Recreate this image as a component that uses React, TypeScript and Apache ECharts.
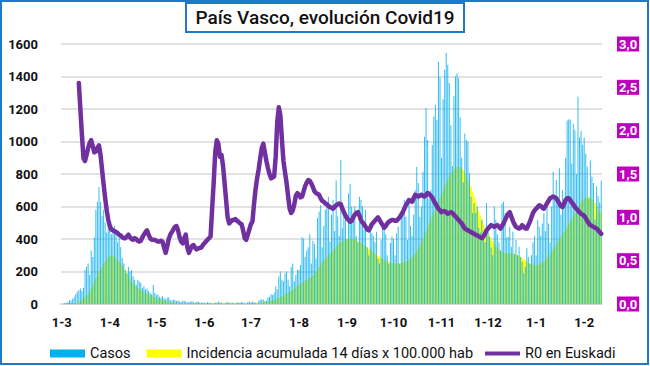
import React, { useEffect, useRef } from "react";
import * as echarts from "echarts";

// Daily data, 1 March 2020 -> 12 February 2021
const startDate = Date.UTC(2020, 2, 1);
const dayCount = 349;

const casosMar = [0,0,4,6,12,25,20,32,45,60,75,85,95,80,100,210,230,250,180,330,290,410,580,630,720,630,540,580,500,440,540];
const casosAbr = [500,430,460,480,437,380,414,350,283,250,210,190,230,200,210,170,150,120,150,140,130,100,110,90,95,80,70,60,117,70];
const casosMay = [55,60,45,40,50,35,30,38,42,25,20,28,25,18,22,15,12,20,18,15,10,14,12,18,10,8,12,15,9,7,10];
const casosJun = [8,5,12,10,6,3,4,9,7,15,11,8,4,3,10,12,8,6,9,4,3,11,7,9,13,10,5,4,12,15];
const casosJul = [10,14,12,6,5,20,25,30,28,18,22,40,45,60,55,70,110,90,170,200,150,140,190,200,150,110,230,250,140,180,210];
const casosAgo = [210,240,412,400,290,330,350,430,250,390,370,280,530,570,610,350,480,580,620,660,385,550,640,450,760,540,420,886,470,580,540];
const casosSep = [400,680,740,600,540,600,420,380,660,640,600,455,580,350,300,455,435,420,380,445,280,250,395,475,455,430,300,250,375,415];
const casosOct = [400,300,435,475,250,560,560,640,537,394,640,480,420,550,700,843,744,537,600,814,1030,1206,1010,650,700,978,1153,1225,1132,1491,1399];
const casosNov = [900,1260,1440,1545,1472,1360,1100,850,1280,1400,1420,1390,1150,900,750,1050,1010,1000,805,660,560,620,560,600,470,440,520,445,380,620];
const casosDic = [475,413,350,300,600,520,430,380,330,620,630,560,410,414,476,353,445,310,394,300,353,290,260,190,230,343,290,250,300,380,420];
const casosEne = [300,517,476,420,496,558,450,610,496,380,600,814,660,763,620,835,550,700,640,900,1130,1135,1135,864,1110,1070,800,1276,1025,1065,980];
const casosFeb = [1025,925,845,650,885,785,745,520,725,665,625,760];

const incMar = [0,0,0,0,0,0,0,0,2,4,8,14,20,27,35,43,52,63,76,95,115,135,155,175,195,213,230,248,262,275,287];
const incAbr = [296,300,298,292,283,272,260,248,235,220,205,190,172,155,140,128,118,109,100,93,86,80,75,70,64,58,53,48,43,40];
const incMay = [37,34,31,28,25,22,19,16,14,12,10,9,8,7,6,6,5,5,5,4,4,4,4,3,3,3,3,3,3,3,3];
const incJun = [3,3,3,3,4,4,4,5,5,5,5,6,6,6,6,6,6,6,5,5,5,5,5,5,5,5,5,5,6,6];
const incJul = [6,6,6,7,7,8,9,10,11,12,14,16,18,21,24,27,30,34,38,42,47,52,57,62,68,74,80,87,95,103,110];
const incAgo = [115,122,130,137,143,148,153,160,168,178,188,200,212,226,240,255,270,280,290,300,310,320,330,341,352,363,375,382,388,393,397];
const incSep = [400,401,401,400,399,396,392,387,382,376,370,362,355,348,340,333,326,318,310,302,296,290,284,278,273,268,264,260,256,253];
const incOct = [251,250,249,249,250,252,255,258,262,267,273,280,290,300,312,326,342,360,380,402,425,448,472,495,518,542,565,588,610,632,655];
const incNov = [678,700,722,744,765,785,802,816,828,837,843,845,843,836,824,808,790,768,745,720,690,660,630,600,570,542,515,490,466,445];
const incDic = [437,420,403,388,372,358,346,336,328,322,318,315,313,312,312,311,310,308,305,300,295,290,282,275,267,260,254,249,245,242,240];
const incEne = [240,241,244,250,256,263,272,282,294,308,322,337,353,368,383,398,413,428,443,459,476,493,510,526,542,558,575,592,610,625,638];
const incFeb = [648,655,659,660,656,648,636,620,604,588,572,560];

const r0Mar = [null,null,null,null,null,null,null,null,null,null,null,2.55,2.25,1.95,1.68,1.65,1.72,1.8,1.86,1.89,1.82,1.75,1.76,1.8,1.83,1.72,1.55,1.38,1.22,1.08,0.97];
const r0Abr = [0.9,0.86,0.85,0.84,0.83,0.82,0.8,0.79,0.77,0.76,0.76,0.78,0.8,0.77,0.75,0.74,0.76,0.75,0.73,0.72,0.73,0.77,0.8,0.83,0.85,0.8,0.76,0.74,0.74,0.74];
const r0May = [0.73,0.72,0.72,0.73,0.72,0.65,0.59,0.66,0.75,0.8,0.83,0.86,0.89,0.9,0.85,0.77,0.72,0.7,0.76,0.8,0.65,0.59,0.63,0.67,0.68,0.65,0.63,0.64,0.65,0.65,0.68];
const r0Jun = [0.7,0.72,0.74,0.76,0.78,1.1,1.4,1.75,1.89,1.85,1.7,1.72,1.6,1.4,1.2,1.0,0.93,0.95,0.97,0.97,0.98,0.96,0.95,0.93,0.92,0.85,0.76,0.74,0.8,0.86];
const r0Jul = [0.92,0.95,1.15,1.32,1.45,1.55,1.68,1.8,1.85,1.75,1.65,1.57,1.5,1.45,1.46,1.47,1.7,2.1,2.27,2.18,1.9,1.65,1.52,1.4,1.25,1.1,1.05,1.08,1.15,1.25,1.28];
const r0Ago = [1.26,1.23,1.24,1.3,1.36,1.4,1.43,1.42,1.39,1.35,1.3,1.28,1.27,1.26,1.22,1.19,1.18,1.16,1.15,1.13,1.12,1.11,1.1,1.12,1.14,1.15,1.16,1.15,1.1,1.06,1.02];
const r0Sep = [0.99,0.97,0.95,0.96,1.0,1.03,1.05,1.06,1.02,0.97,0.94,0.92,0.89,0.86,0.85,0.88,0.92,0.94,0.96,0.98,1.0,0.97,0.94,0.91,0.88,0.9,0.93,0.95,0.96,0.97];
const r0Oct = [0.97,0.96,0.96,0.98,1.0,1.03,1.06,1.1,1.14,1.17,1.2,1.19,1.18,1.22,1.26,1.25,1.24,1.25,1.26,1.25,1.24,1.26,1.28,1.27,1.25,1.23,1.19,1.16,1.13,1.1,1.08];
const r0Nov = [1.06,1.07,1.07,1.06,1.04,1.05,1.06,1.05,1.03,1.01,0.99,0.97,0.95,0.93,0.9,0.87,0.86,0.85,0.84,0.83,0.82,0.81,0.8,0.79,0.78,0.77,0.76,0.78,0.81,0.85];
const r0Dic = [0.87,0.89,0.91,0.9,0.89,0.9,0.91,0.89,0.87,0.9,0.93,0.97,1.01,1.04,1.06,1.01,0.96,0.92,0.89,0.88,0.87,0.88,0.91,0.89,0.87,0.87,0.91,0.95,1.0,1.05,1.08];
const r0Ene = [1.1,1.12,1.14,1.13,1.11,1.1,1.13,1.16,1.19,1.22,1.23,1.24,1.23,1.22,1.19,1.16,1.13,1.12,1.15,1.2,1.22,1.22,1.2,1.17,1.15,1.12,1.1,1.08,1.06,1.04,1.03];
const r0Feb = [1.02,0.99,0.96,0.93,0.91,0.9,0.89,0.88,0.87,0.85,0.83,0.81];

const casos = [...casosMar, ...casosAbr, ...casosMay, ...casosJun, ...casosJul, ...casosAgo, ...casosSep, ...casosOct, ...casosNov, ...casosDic, ...casosEne, ...casosFeb];
const incidencia = [...incMar, ...incAbr, ...incMay, ...incJun, ...incJul, ...incAgo, ...incSep, ...incOct, ...incNov, ...incDic, ...incEne, ...incFeb];
const r0 = [...r0Mar, ...r0Abr, ...r0May, ...r0Jun, ...r0Jul, ...r0Ago, ...r0Sep, ...r0Oct, ...r0Nov, ...r0Dic, ...r0Ene, ...r0Feb];

const categories: string[] = [];
for (let i = 0; i < dayCount; i++) {
  const d = new Date(startDate + i * 86400000);
  categories.push(`${d.getUTCDate()}-${d.getUTCMonth() + 1}`);
}

const leftTicks = { min: 0, max: 1600, interval: 200 };
const rightTicks = { min: 0, max: 3, interval: 0.5 };

const NAME_CASOS = "Casos";
const NAME_INC = "Incidencia acumulada 14 días x 100.000 hab";
const NAME_R0 = "R0 en Euskadi";

const FONT = "Roboto, 'Noto Sans', sans-serif";

export default function App() {
  const ref = useRef<HTMLDivElement>(null);
  useEffect(() => {
    if (!ref.current) return;
    const chart = echarts.init(ref.current, null, { renderer: "svg" });
    const isMonthStart = (_i: number, v: string) => v.startsWith("1-");
    const legendText = { fontFamily: FONT, fontSize: 14.5, color: "#111" };
    chart.setOption({
      animation: false,
      backgroundColor: "#fff",
      textStyle: { fontFamily: FONT },
      title: {
        text: "País Vasco, evolución Covid19",
        left: "center",
        top: 3,
        padding: [5, 10, 5, 10],
        borderColor: "#1F78C8",
        borderWidth: 2,
        textStyle: { fontFamily: FONT, fontSize: 19, fontWeight: 500, color: "#111" },
      },
      graphic: [
        {
          type: "rect",
          shape: { x: 1, y: 1, width: 647, height: 363 },
          style: { fill: "none", stroke: "#1F78C8", lineWidth: 2 },
          silent: true,
          z: 100,
        },
      ],
      legend: [
        {
          left: 45,
          top: 341,
          itemWidth: 35,
          itemHeight: 8,
          itemGap: 16,
          textStyle: legendText,
          data: [
            { name: NAME_CASOS, icon: "rect", itemStyle: { color: "#00B0F0", opacity: 1 } },
            { name: NAME_INC, icon: "rect", itemStyle: { color: "#FFFF00" } },
          ],
        },
        {
          left: 480,
          top: 341,
          itemWidth: 35,
          itemHeight: 4,
          itemGap: 4,
          textStyle: legendText,
          data: [{ name: NAME_R0, icon: "rect", itemStyle: { color: "#7030A0" } }],
        },
      ],
      grid: { left: 61, right: 48, top: 44, bottom: 62 },
      xAxis: [
        {
          type: "category",
          data: categories,
          boundaryGap: true,
          axisLine: { lineStyle: { color: "#D0D0D0", width: 1.5 } },
          axisTick: { interval: isMonthStart, length: 5, lineStyle: { color: "#C8C8C8" } },
          axisLabel: {
            interval: isMonthStart,
            margin: 12,
            fontFamily: FONT,
            fontSize: 13,
            fontWeight: "bold",
            color: "#111",
          },
        },
        {
          type: "category",
          data: categories,
          boundaryGap: true,
          show: false,
        },
      ],
      yAxis: [
        {
          type: "value",
          ...leftTicks,
          axisLine: { show: false },
          axisTick: { show: false },
          splitLine: { lineStyle: { color: "#D9D9D9", width: 1.5 } },
          axisLabel: {
            margin: 23,
            fontFamily: FONT,
            fontSize: 13,
            fontWeight: "bold",
            color: "#111",
            formatter: (v: number) => String(v),
          },
        },
        {
          type: "value",
          ...rightTicks,
          position: "right",
          axisLine: { show: false },
          axisTick: { show: false },
          splitLine: { show: false },
          axisLabel: {
            margin: 15,
            fontFamily: FONT,
            fontSize: 13,
            fontWeight: "bold",
            color: "#fff",
            backgroundColor: "#C000C0",
            padding: [1, 2, 1, 2],
            formatter: (v: number) => v.toFixed(1).replace(".", ","),
          },
        },
      ],
      series: [
        {
          name: NAME_INC,
          type: "bar",
          xAxisIndex: 0,
          data: incidencia,
          barWidth: "100%",
          itemStyle: { color: "#FFFF00" },
        },
        {
          name: NAME_CASOS,
          type: "bar",
          xAxisIndex: 1,
          data: casos,
          barWidth: "38%",
          itemStyle: { color: "#00ADEF", opacity: 0.8 },
          z: 3,
        },
        {
          name: NAME_R0,
          type: "line",
          yAxisIndex: 1,
          data: r0,
          symbol: "none",
          connectNulls: false,
          lineStyle: { color: "#7030A0", width: 4.5, join: "round", cap: "round" },
          itemStyle: { color: "#7030A0" },
          z: 5,
        },
      ],
    });
    return () => chart.dispose();
  }, []);
  return (
    <div
      ref={ref}
      style={{ position: "fixed", left: 0, top: 0, width: 650, height: 366, background: "#fff" }}
    />
  );
}
